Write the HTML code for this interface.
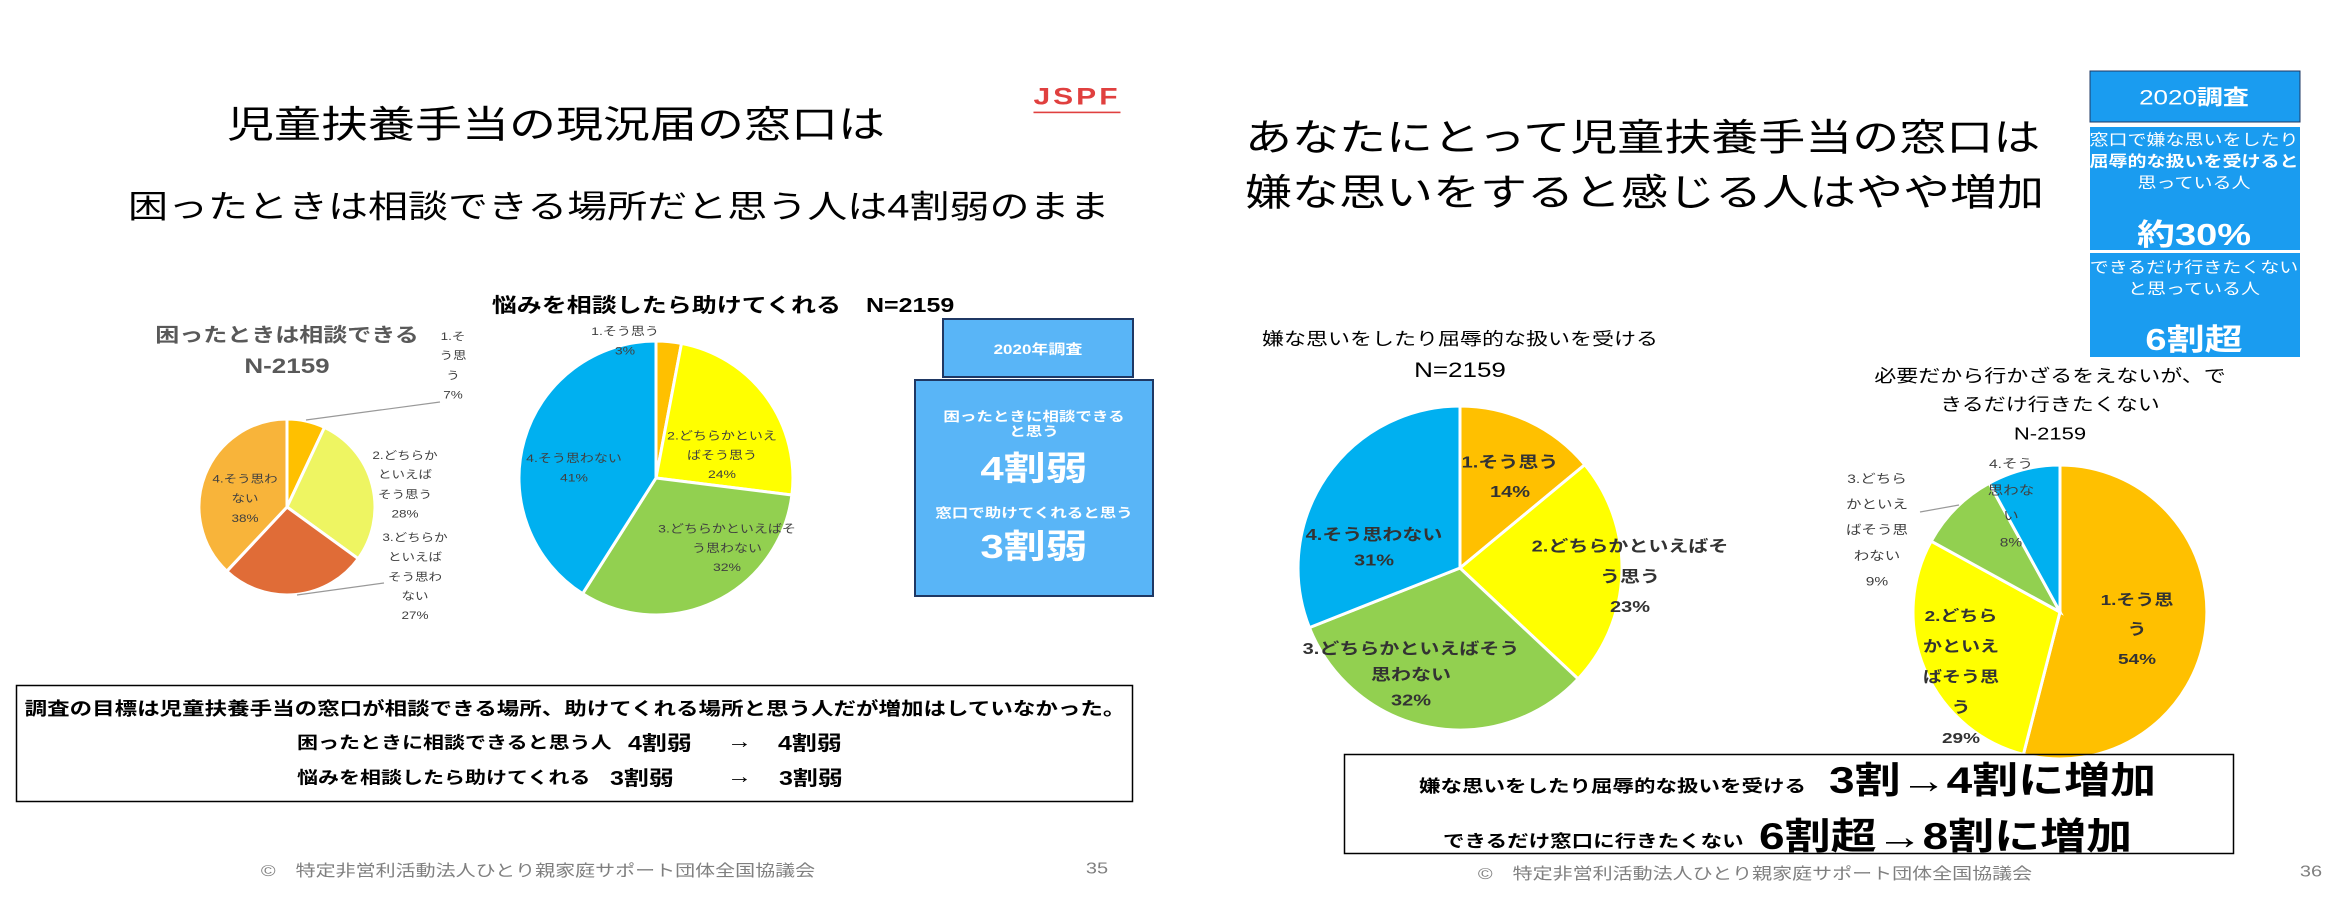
<!DOCTYPE html>
<html><head><meta charset="utf-8"><style>
body{margin:0;width:2326px;height:910px;background:#fff;position:relative;overflow:hidden;font-family:"Liberation Sans","Noto Sans CJK JP",sans-serif}
.a{position:absolute;white-space:nowrap;transform:translateY(-50%) scaleY(.8);transform-origin:left center}
.c{position:absolute;transform:translate(-50%,-50%) scaleY(.8);white-space:nowrap;text-align:center}
.g{color:#404040;font-size:13.5px;line-height:24.3px}
.m{color:#404040;font-size:14px;line-height:24.2px}
.gb{color:#333;font-weight:bold}
svg{position:absolute;left:0;top:0}
</style></head><body>
<svg width="2326" height="910">
<g stroke="#fff" stroke-width="3">
<path d="M287,507 L287,419 A88,88 0 0 1 324.5,427.4Z" fill="#ffc000"/>
<path d="M287,507 L324.5,427.4 A88,88 0 0 1 358.2,558.7Z" fill="#eef562"/>
<path d="M287,507 L358.2,558.7 A88,88 0 0 1 226.8,571.2Z" fill="#e06c37"/>
<path d="M287,507 L226.8,571.2 A88,88 0 0 1 287,419Z" fill="#f8b43a"/>
<path d="M656,478 L656,341 A137,137 0 0 1 681.5,343.4Z" fill="#ffc000"/>
<path d="M656,478 L681.5,343.4 A137,137 0 0 1 791.9,495Z" fill="#ffff00"/>
<path d="M656,478 L791.9,495 A137,137 0 0 1 582.6,593.7Z" fill="#92d050"/>
<path d="M656,478 L582.6,593.7 A137,137 0 0 1 656,341Z" fill="#00b0f0"/>
<path d="M1460,568 L1460,406 A162,162 0 0 1 1584.8,464.7Z" fill="#ffc000"/>
<path d="M1460,568 L1584.8,464.7 A162,162 0 0 1 1578.1,678.9Z" fill="#ffff00"/>
<path d="M1460,568 L1578.1,678.9 A162,162 0 0 1 1309.4,627.6Z" fill="#92d050"/>
<path d="M1460,568 L1309.4,627.6 A162,162 0 0 1 1460,406Z" fill="#00b0f0"/>
<path d="M2060,612 L2060,465 A147,147 0 1 1 2023.4,754.4Z" fill="#ffc000"/>
<path d="M2060,612 L2023.4,754.4 A147,147 0 0 1 1931.2,541.2Z" fill="#ffff00"/>
<path d="M2060,612 L1931.2,541.2 A147,147 0 0 1 1989.2,483.2Z" fill="#92d050"/>
<path d="M2060,612 L1989.2,483.2 A147,147 0 0 1 2060,465Z" fill="#00b0f0"/>
</g>
<g stroke="#999" stroke-width="1.2" fill="none">
<path d="M306,420 L440,402"/><path d="M297,595 L384,583"/><path d="M1920,512 L1959,505"/>
</g>
<rect x="943" y="319" width="190" height="58" fill="#59b5f7" stroke="#1f3864" stroke-width="2"/>
<rect x="915" y="380" width="238" height="216" fill="#59b5f7" stroke="#1f3864" stroke-width="2"/>
<rect x="16.5" y="685.5" width="1116" height="116" fill="none" stroke="#000" stroke-width="1.5"/>
<rect x="2090" y="71" width="210" height="51" fill="#1a9cf0" stroke="#1f3864" stroke-width="1"/>
<rect x="2090" y="127" width="210" height="123" fill="#1a9cf0"/>
<rect x="2090" y="253" width="210" height="104" fill="#1a9cf0"/>
<rect x="1344.5" y="754.5" width="889" height="99" fill="none" stroke="#000" stroke-width="1.5"/>
</svg>

<div class="a" style="left:227px;top:121px;font-size:47px">児童扶養手当の現況届の窓口は</div>
<div class="a" style="left:128px;top:204px;font-size:40px">困ったときは相談できる場所だと思う人は4割弱のまま</div>
<div class="c" style="left:1077px;top:98px;font-size:30px;font-weight:bold;color:#e0403f;letter-spacing:3px;border-bottom:2px solid #e0403f;line-height:36px">JSPF</div>

<div class="c" style="left:287px;top:333px;font-size:24px;font-weight:bold;color:#595959">困ったときは相談できる</div>
<div class="c" style="left:287px;top:366px;font-size:26px;font-weight:bold;color:#595959">N-2159</div>
<div class="c" style="left:723px;top:304px;font-size:25px;font-weight:bold">悩みを相談したら助けてくれる　N=2159</div>

<div class="c g" style="left:453px;top:366px">1.そ<br>う思<br>う<br>7%</div>
<div class="c g" style="left:405px;top:485px">2.どちらか<br>といえば<br>そう思う<br>28%</div>
<div class="c g" style="left:415px;top:577px">3.どちらか<br>といえば<br>そう思わ<br>ない<br>27%</div>
<div class="c g" style="left:245px;top:499px">4.そう思わ<br>ない<br>38%</div>
<div class="c m" style="left:625px;top:341px">1.そう思う<br>3%</div>
<div class="c m" style="left:722px;top:455px">2.どちらかといえ<br>ばそう思う<br>24%</div>
<div class="c m" style="left:727px;top:548px">3.どちらかといえばそ<br>う思わない<br>32%</div>
<div class="c m" style="left:574px;top:468px">4.そう思わない<br>41%</div>

<div class="c" style="left:1038px;top:348px;color:#fff;font-weight:bold;font-size:17px">2020年調査</div>
<div class="c" style="left:1034px;top:425px;color:#fff;font-weight:bold;font-size:16.5px;line-height:19px">困ったときに相談できる<br>と思う</div>
<div class="c" style="left:1034px;top:466px;color:#fff;font-weight:bold;font-size:42px">4割弱</div>
<div class="c" style="left:1034px;top:512px;color:#fff;font-weight:bold;font-size:16.5px">窓口で助けてくれると思う</div>
<div class="c" style="left:1034px;top:544px;color:#fff;font-weight:bold;font-size:42px">3割弱</div>

<div class="c" style="left:575px;top:708px;font-size:22.5px;font-weight:bold">調査の目標は児童扶養手当の窓口が相談できる場所、助けてくれる場所と思う人だが増加はしていなかった。</div>
<div class="a" style="left:297px;top:742px;font-size:21px;font-weight:bold">困ったときに相談できると思う人</div>
<div class="a" style="left:628px;top:742px;font-size:25px;font-weight:bold">4割弱</div>
<div class="a" style="left:727px;top:742px;font-size:25px">→</div>
<div class="a" style="left:778px;top:742px;font-size:25px;font-weight:bold">4割弱</div>
<div class="a" style="left:297px;top:777px;font-size:21px;font-weight:bold">悩みを相談したら助けてくれる</div>
<div class="a" style="left:610px;top:777px;font-size:25px;font-weight:bold">3割弱</div>
<div class="a" style="left:727px;top:777px;font-size:25px">→</div>
<div class="a" style="left:779px;top:777px;font-size:25px;font-weight:bold">3割弱</div>
<div class="c" style="left:538px;top:869px;font-size:20px;color:#7f7f7f">©　特定非営利活動法人ひとり親家庭サポート団体全国協議会</div>
<div class="c" style="left:1097px;top:869px;font-size:20px;color:#7f7f7f">35</div>

<!-- right slide -->
<div class="a" style="left:1245px;top:134px;font-size:47px">あなたにとって児童扶養手当の窓口は</div>
<div class="a" style="left:1245px;top:189px;font-size:47px">嫌な思いをすると感じる人はやや増加</div>
<div class="c" style="left:2194px;top:96px;color:#fff;font-size:26px">2020<b>調査</b></div>
<div class="c" style="left:2194px;top:162px;color:#fff;font-size:19px;line-height:27px">窓口で嫌な思いをしたり<br><b>屈辱的な扱いを受けると</b><br>思っている人</div>
<div class="c" style="left:2194px;top:232px;color:#fff;font-size:38px;font-weight:bold">約30%</div>
<div class="c" style="left:2194px;top:279px;color:#fff;font-size:19px;line-height:27px">できるだけ行きたくない<br>と思っている人</div>
<div class="c" style="left:2194px;top:337px;color:#fff;font-size:38px;font-weight:bold">6割超</div>

<div class="c" style="left:1460px;top:338px;font-size:22px">嫌な思いをしたり屈辱的な扱いを受ける</div>
<div class="c" style="left:1460px;top:370px;font-size:26px">N=2159</div>
<div class="c" style="left:2050px;top:405px;font-size:22px;line-height:36px">必要だから行かざるをえないが、で<br>きるだけ行きたくない<br>N-2159</div>

<div class="c gb" style="left:1510px;top:478px;font-size:20px;line-height:37px">1.そう思う<br>14%</div>
<div class="c gb" style="left:1630px;top:577px;font-size:20px;line-height:38px">2.どちらかといえばそ<br>う思う<br>23%</div>
<div class="c gb" style="left:1411px;top:675px;font-size:20px;line-height:32px">3.どちらかといえばそう<br>思わない<br>32%</div>
<div class="c gb" style="left:1374px;top:548px;font-size:20px;line-height:32px">4.そう思わない<br>31%</div>
<div class="c gb" style="left:2137px;top:630px;font-size:19px;line-height:37px">1.そう思<br>う<br>54%</div>
<div class="c gb" style="left:1961px;top:678px;font-size:19px;line-height:38px">2.どちら<br>かといえ<br>ばそう思<br>う<br>29%</div>
<div class="c" style="left:1877px;top:531px;color:#404040;font-size:15.5px;line-height:32px">3.どちら<br>かといえ<br>ばそう思<br>わない<br>9%</div>
<div class="c" style="left:2011px;top:504px;color:#404040;font-size:15.5px;line-height:32.5px">4.そう<br>思わな<br>い<br>8%</div>

<div class="a" style="left:1419px;top:785px;font-size:21.5px;font-weight:bold">嫌な思いをしたり屈辱的な扱いを受ける</div>
<div class="a" style="left:1829px;top:778px;font-size:46px;font-weight:bold">3割→4割に増加</div>
<div class="a" style="left:1443px;top:840px;font-size:21.5px;font-weight:bold">できるだけ窓口に行きたくない</div>
<div class="a" style="left:1759px;top:834px;font-size:46px;font-weight:bold">6割超→8割に増加</div>
<div class="c" style="left:1755px;top:872px;font-size:20px;color:#7f7f7f">©　特定非営利活動法人ひとり親家庭サポート団体全国協議会</div>
<div class="c" style="left:2311px;top:872px;font-size:20px;color:#7f7f7f">36</div>
</body></html>
